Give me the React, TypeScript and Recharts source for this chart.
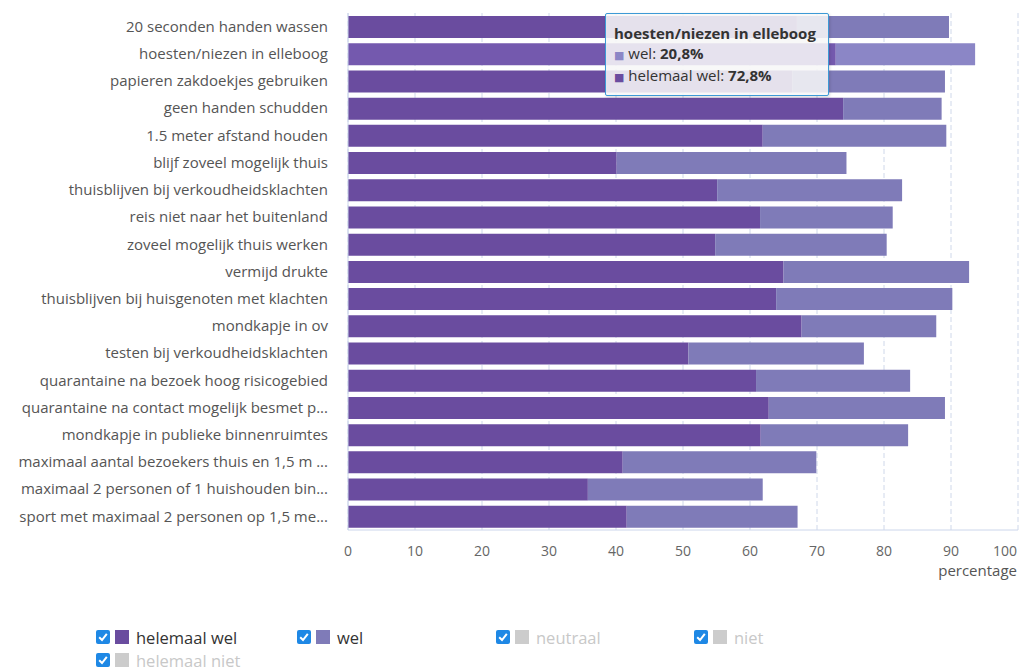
import React from "react";
import { BarChart, Bar, XAxis, YAxis, CartesianGrid, Tooltip, Cell } from "recharts";

const categories = [
  "20 seconden handen wassen",
  "hoesten/niezen in elleboog",
  "papieren zakdoekjes gebruiken",
  "geen handen schudden",
  "1.5 meter afstand houden",
  "blijf zoveel mogelijk thuis",
  "thuisblijven bij verkoudheidsklachten",
  "reis niet naar het buitenland",
  "zoveel mogelijk thuis werken",
  "vermijd drukte",
  "thuisblijven bij huisgenoten met klachten",
  "mondkapje in ov",
  "testen bij verkoudheidsklachten",
  "quarantaine na bezoek hoog risicogebied",
  "quarantaine na contact mogelijk besmet p...",
  "mondkapje in publieke binnenruimtes",
  "maximaal aantal bezoekers thuis en 1,5 m ...",
  "maximaal 2 personen of 1 huishouden bin...",
  "sport met maximaal 2 personen op 1,5 me...",
];

const helemaalWel = [67.0, 72.8, 66.3, 73.9, 61.9, 40.1, 55.1, 61.5, 54.8, 65.0, 63.9, 67.7, 50.8, 60.9, 62.8, 61.6, 41.0, 35.8, 41.6];
const wel = [22.7, 20.8, 22.8, 14.7, 27.4, 34.3, 27.6, 19.8, 25.6, 27.7, 26.3, 20.1, 26.2, 23.0, 26.3, 22.0, 28.9, 26.1, 25.5];

const xTicks = [0, 10, 20, 30, 40, 50, 60, 70, 80, 90, 100];

const legendItems = [
  { name: "helemaal wel", color: "#6a4c9f", active: true },
  { name: "wel", color: "#7f7bb8", active: true },
  { name: "neutraal", color: "#cccccc", active: false },
  { name: "niet", color: "#cccccc", active: false },
  { name: "helemaal niet", color: "#cccccc", active: false },
];

const data = categories.map((c, i) => ({ name: c, hw: helemaalWel[i], wel: wel[i] }));

const FONT = "'Open Sans', 'DejaVu Sans', sans-serif";
const HOVER = 1;

const YTick = (props: any) => {
  const { y, payload } = props;
  return (
    <text x={328} y={y} dy="0.35em" textAnchor="end" fontFamily={FONT} fontSize={15} fill="#555">
      {payload.value}
    </text>
  );
};

const XTick = (props: any) => {
  const { x, y, payload } = props;
  const last = payload.value === 100;
  return (
    <text x={last ? x - 1 : x} y={y} dy="0.71em" textAnchor={last ? "end" : "middle"} fontFamily={FONT} fontSize={14} fill="#666">
      {payload.value}
    </text>
  );
};

const TipContent = (props: any) => {
  const { active, payload, label } = props;
  if (!active || !payload || !payload.length) return null;
  const rows = [...payload].reverse();
  return (
    <div
      style={{
        background: "rgba(247,247,247,0.87)",
        border: "1.5px solid #3d9ad6",
        borderRadius: 2,
        padding: "10px 8px 8px 8px",
        fontFamily: FONT,
        fontSize: 15,
        color: "#333",
        width: 206,
        boxSizing: "content-box",
        lineHeight: "21px",
        boxShadow: "1px 1px 3px rgba(0,0,0,0.15)",
      }}
    >
      <div style={{ fontWeight: 700, fontSize: 15, lineHeight: "19px" }}>{label}</div>
      {rows.map((r: any) => (
        <div key={r.dataKey}>
          <span style={{ color: r.dataKey === "wel" ? "#8b86c6" : "#6a4c9f", fontSize: 11 }}>■</span>{" "}
          {r.name}: <b>{r.value.toFixed(1).replace(".", ",")}%</b>
        </div>
      ))}
    </div>
  );
};

const Check = () => (
  <svg width={14} height={14} style={{ position: "absolute", left: 0, top: 1 }}>
    <rect x={0} y={0} width={14} height={14} rx={2} fill="#1e88e5" />
    <path d="M3.2 7.3 L6 10 L10.8 3.8" stroke="#fff" strokeWidth={2} fill="none" />
  </svg>
);

const legendPos = [
  { x: 96, y: 629 },
  { x: 297, y: 629 },
  { x: 496, y: 629 },
  { x: 694, y: 629 },
  { x: 96, y: 652 },
];

export default function App() {
  return (
    <div style={{ position: "absolute", left: 0, top: 0, width: 1019, height: 670, background: "#fff" }}>
      <BarChart
        width={1019}
        height={600}
        data={data}
        layout="vertical"
        margin={{ top: 13, right: 1, left: 0, bottom: 0 }}
        barSize={22}
      >
        <CartesianGrid horizontal={false} vertical={true} strokeDasharray="5 3" stroke="#cfd8ea" />
        <XAxis
          type="number"
          domain={[0, 100]}
          ticks={xTicks}
          interval={0}
          height={70}
          tickLine={false}
          tickSize={0}
          tickMargin={16}
          axisLine={{ stroke: "#ccd6eb" }}
          tick={<XTick />}
          label={{
            content: (p: any) => (
              <text
                x={p.viewBox.x + p.viewBox.width - 1}
                y={p.viewBox.y + 46}
                textAnchor="end"
                fontFamily={FONT}
                fontSize={15}
                fill="#555"
              >
                percentage
              </text>
            ),
          }}
        />
        <YAxis
          type="category"
          dataKey="name"
          width={348}
          interval={0}
          tickLine={false}
          axisLine={{ stroke: "#ccd6eb" }}
          tick={<YTick />}
        />
        <Tooltip
          content={<TipContent />}
          defaultIndex={HOVER}
          active={true}
          cursor={false}
          position={{ x: 605, y: 13 }}
          isAnimationActive={false}
          wrapperStyle={{ zIndex: 10 }}
        />
        <Bar dataKey="hw" name="helemaal wel" stackId="a" fill="#6a4c9f" isAnimationActive={false} activeBar={false}>
          {data.map((d, i) => (
            <Cell key={i} fill={i === HOVER ? "#7459ae" : "#6a4c9f"} />
          ))}
        </Bar>
        <Bar dataKey="wel" name="wel" stackId="a" fill="#7f7bb8" isAnimationActive={false} activeBar={false}>
          {data.map((d, i) => (
            <Cell key={i} fill={i === HOVER ? "#8b86c6" : "#7f7bb8"} />
          ))}
        </Bar>
      </BarChart>
      {legendItems.map((it, i) => (
        <div
          key={it.name}
          style={{
            position: "absolute",
            left: legendPos[i].x,
            top: legendPos[i].y,
            height: 17,
            paddingLeft: 40,
            fontFamily: FONT,
            fontSize: 16.5,
            lineHeight: "17px",
            color: it.active ? "#333" : "#c8c8c8",
            whiteSpace: "nowrap",
          }}
        >
          <Check />
          <span style={{ position: "absolute", left: 19, top: 1, width: 14, height: 14, background: it.color }} />
          {it.name}
        </div>
      ))}
    </div>
  );
}
